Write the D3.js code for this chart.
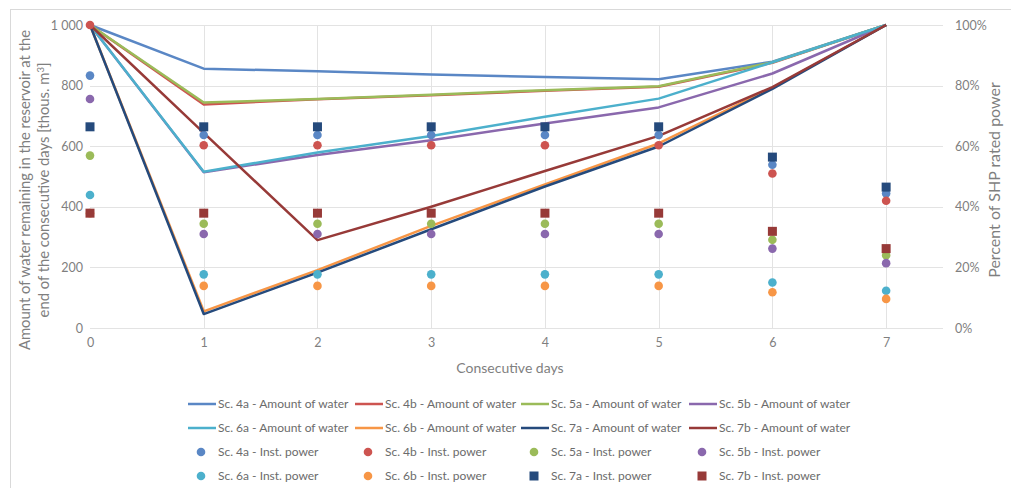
<!DOCTYPE html>
<html><head><meta charset="utf-8">
<script src="https://cdn.jsdelivr.net/npm/d3@7"></script>
<style>
html,body{margin:0;padding:0;background:#fff;}
svg{display:block;font-family:Lato,"Open Sans",sans-serif;}
</style></head>
<body><svg id="c" width="1011" height="488"></svg>
<script>
const days = [0,1,2,3,4,5,6,7];
const xTicks = [0,1,2,3,4,5,6,7];
const leftTicks = [0,200,400,600,800,1000];
const rightTicks = [0,0.2,0.4,0.6,0.8,1.0];

// Amount of water [thous. m3]
const water4a = [1000,856,847,837,828,821,879,1000];
const water4b = [1000,738,755,768,783,796,875,1000];
const water5a = [1000,744,756,770,785,798,877,1000];
const water5b = [1000,514,571,620,675,728,840,1000];
const water6a = [1000,516,579,634,697,757,877,1000];
const water6b = [1000,55,191,337,474,609,793,1000];
const water7a = [1000,46,183,326,467,599,789,1000];
const water7b = [1000,644,290,400,518,634,795,1000];

// Installed power [% of SHP rated power]
const power4a = [83.3,63.7,63.7,63.7,63.7,63.7,53.9,44.4];
const power4b = [100,60.3,60.3,60.3,60.3,60.3,51.0,42.0];
const power5a = [56.9,34.4,34.4,34.4,34.4,34.4,29.1,24.0];
const power5b = [75.6,31.0,31.0,31.0,31.0,31.0,26.2,21.4];
const power6a = [43.9,17.7,17.7,17.7,17.7,17.7,15.0,12.3];
const power6b = [37.9,13.9,13.9,13.9,13.9,13.9,11.8,9.6];
const power7a = [66.4,66.4,66.4,66.4,66.4,66.4,56.4,46.5];
const power7b = [37.9,37.9,37.9,37.9,37.9,37.9,31.9,26.2];

const lineNames = ["Sc. 4a - Amount of water","Sc. 4b - Amount of water","Sc. 5a - Amount of water","Sc. 5b - Amount of water",
                   "Sc. 6a - Amount of water","Sc. 6b - Amount of water","Sc. 7a - Amount of water","Sc. 7b - Amount of water"];
const pointNames = ["Sc. 4a - Inst. power","Sc. 4b - Inst. power","Sc. 5a - Inst. power","Sc. 5b - Inst. power",
                    "Sc. 6a - Inst. power","Sc. 6b - Inst. power","Sc. 7a - Inst. power","Sc. 7b - Inst. power"];
const colors = ["#5a87c5","#cd5450","#9bbb59","#8a68ad","#4cb0cc","#f79646","#254a7c","#973a38"];
const shapes = ["circle","circle","circle","circle","circle","circle","square","square"];

const waterSeries = [water4a,water4b,water5a,water5b,water6a,water6b,water7a,water7b];
const powerSeries = [power4a,power4b,power5a,power5b,power6a,power6b,power7a,power7b];

const svg = d3.select("#c");
// outer frame
svg.append("rect").attr("x",10.5).attr("y",9.5).attr("width",1100).attr("height",600)
  .attr("fill","#fff").attr("stroke","#d9d9d9");

const x = d3.scaleLinear().domain([0,7.5]).range([90,943]);
const y = d3.scaleLinear().domain([0,1000]).range([328,25]);
const yR = d3.scaleLinear().domain([0,1]).range([328,25]);

const grid = svg.append("g");
grid.selectAll("line.h").data(leftTicks).join("line")
  .attr("x1",x(0)).attr("x2",x(7.5)).attr("y1",d=>Math.round(y(d))+0.5).attr("y2",d=>Math.round(y(d))+0.5)
  .attr("stroke","#e3e3e3").attr("stroke-width",1);
grid.selectAll("line.v").data(xTicks.slice(1)).join("line")
  .attr("x1",d=>Math.round(x(d))+0.5).attr("x2",d=>Math.round(x(d))+0.5).attr("y1",y(1000)).attr("y2",y(0))
  .attr("stroke","#e3e3e3").attr("stroke-width",1);

// Axes
const fmtLeft = d => d3.format(",")(d).replace(",", " ");
const leftAxis = svg.append("g").attr("transform","translate(83,0)")
  .call(d3.axisLeft(y).tickValues(leftTicks).tickFormat(fmtLeft).tickSize(0).tickPadding(0));
const rightAxis = svg.append("g").attr("transform","translate(955,0)")
  .call(d3.axisRight(yR).tickValues(rightTicks).tickFormat(d3.format(".0%")).tickSize(0).tickPadding(0));
const bottomAxis = svg.append("g").attr("transform","translate(0,336)")
  .call(d3.axisBottom(x).tickValues(xTicks).tickFormat(d3.format("d")).tickSize(0).tickPadding(0));
[leftAxis,rightAxis,bottomAxis].forEach(a=>{
  a.select(".domain").remove();
  a.selectAll("text").attr("fill","#7f7f7f").style("font-size","12.5px").style("font-family","Lato, sans-serif");
});
bottomAxis.selectAll("text").attr("dy","0.9em");

// Axis titles
svg.append("text").attr("x",510).attr("y",373).attr("text-anchor","middle")
  .attr("fill","#7f7f7f").style("font-size","14px").text("Consecutive days");
const lt = svg.append("text").attr("transform","translate(30,190) rotate(-90)").attr("text-anchor","middle")
  .attr("fill","#7f7f7f").style("font-size","14.8px");
lt.append("tspan").attr("x",0).attr("dy","0").text("Amount of water remaining in the reservoir at the");
const t2 = lt.append("tspan").attr("x",0).attr("dy","1.25em");
t2.append("tspan").text("end of the consecutive days [thous. m");
t2.append("tspan").attr("baseline-shift","super").style("font-size","9.5px").text("3");
t2.append("tspan").text("]");
svg.append("text").attr("transform","translate(1000,180) rotate(-90)").attr("text-anchor","middle")
  .attr("fill","#7f7f7f").style("font-size","16px").text("Percent of SHP rated power");

// Lines
const line = d3.line().x((d,i)=>x(days[i])).y(d=>y(d));
const lg = svg.append("g");
waterSeries.forEach((s,i)=>{
  lg.append("path").datum(s).attr("d",line).attr("fill","none")
    .attr("stroke",colors[i]).attr("stroke-width",2.5).attr("stroke-linejoin","round");
});

// Points
const pg = svg.append("g");
powerSeries.forEach((s,i)=>{
  if (shapes[i]==="circle") {
    pg.selectAll(null).data(s).join("circle")
      .attr("cx",(d,j)=>x(days[j])).attr("cy",d=>yR(d/100)).attr("r",4.3).attr("fill",colors[i]);
  } else {
    pg.selectAll(null).data(s).join("rect")
      .attr("x",(d,j)=>x(days[j])-4.5).attr("y",d=>yR(d/100)-4.5).attr("width",9).attr("height",9).attr("fill",colors[i]);
  }
});

// Legend
const legX = [188,355,521,689];
const legY = [404,428,452,476];
const leg = svg.append("g");
lineNames.forEach((n,i)=>{
  const cx = legX[i%4], cy = legY[Math.floor(i/4)];
  leg.append("line").attr("x1",cx).attr("x2",cx+28).attr("y1",cy).attr("y2",cy)
    .attr("stroke",colors[i]).attr("stroke-width",2.5);
  leg.append("text").attr("x",cx+30).attr("y",cy).attr("dy","0.35em").attr("fill","#6b6b6b")
    .style("font-size","12px").text(n);
});
pointNames.forEach((n,i)=>{
  const cx = legX[i%4], cy = legY[2+Math.floor(i/4)];
  if (shapes[i]==="circle") leg.append("circle").attr("cx",cx+13).attr("cy",cy).attr("r",4.3).attr("fill",colors[i]);
  else leg.append("rect").attr("x",cx+8.5).attr("y",cy-4.5).attr("width",9).attr("height",9).attr("fill",colors[i]);
  leg.append("text").attr("x",cx+30).attr("y",cy).attr("dy","0.35em").attr("fill","#6b6b6b")
    .style("font-size","12px").text(n);
});
</script></body></html>
